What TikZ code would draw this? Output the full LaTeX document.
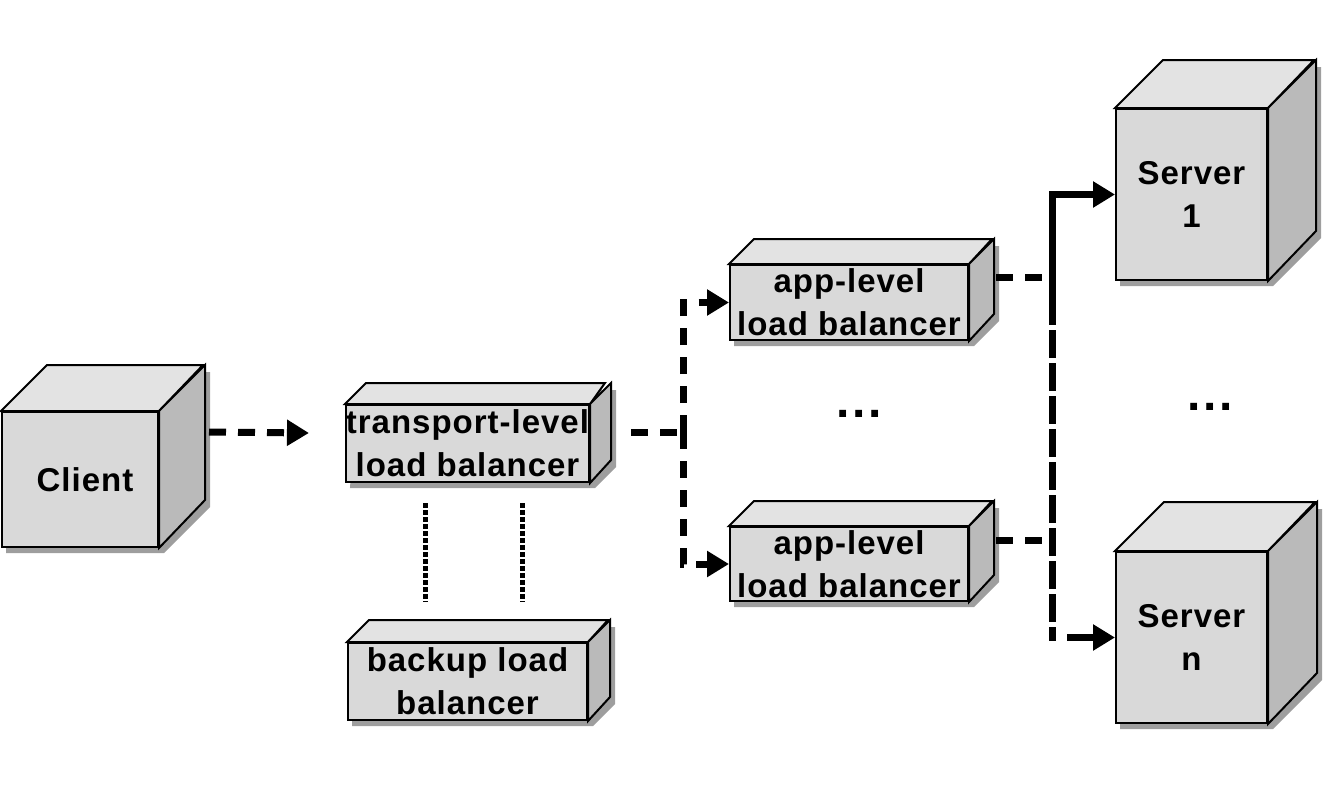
\documentclass[tikz,border=0pt]{standalone}
\usepackage{fontspec}
\setmainfont{Liberation Sans}
\newfontfamily\lblfont[LetterSpace=3]{Liberation Sans}
\usetikzlibrary{arrows.meta,calc,backgrounds}
\definecolor{facec}{gray}{0.85}
\definecolor{topc}{gray}{0.89}
\definecolor{sidec}{gray}{0.73}
\definecolor{shadowc}{gray}{0.62}
\tikzset{
  face/.style={draw, line width=2pt, fill=facec, inner sep=0pt, align=center,
    font=\fontsize{33}{43}\selectfont\lblfont\bfseries},
  edge/.style={draw, line width=2pt, line join=miter},
  conn/.style={line width=7pt, draw=black},
  dashc/.style={conn, dash pattern=on 17pt off 12pt},
  finedash/.style={conn, dash pattern=on 28pt off 5pt},
  dotc/.style={line width=5pt, dash pattern=on 5pt off 2pt},
  tip/.style={-{Triangle[length=22pt,width=25pt]}},
  dotsnode/.style={anchor=base, inner sep=0pt, font=\fontsize{48}{48}\selectfont\bfseries}
}
\newcommand\mycube[7]{%
  \node[face, minimum width=#4pt, minimum height=#5pt] (#1) at (#2,#3) {#7};
  \begin{pgfonlayer}{background}
    \fill[shadowc] ([shift={(5pt,-5pt)}]#1.south west) -- ([shift={(5pt,-5pt)}]#1.south east)
      -- ++(#6,-#6) -- ++(0,-#5) -- ++(-#4,0) -- ++(-#6,#6) -- cycle;
  \end{pgfonlayer}
  \draw[edge, fill=topc] (#1.north west) -- ++(#6,-#6) -- ++(#4,0) -- (#1.north east) -- cycle;
  \draw[edge, fill=sidec] (#1.north east) -- ++(#6,-#6) -- ++(0,#5) -- (#1.south east) -- cycle;
}
\begin{document}
\begin{tikzpicture}[x=1pt,y=-1pt]
\useasboundingbox (0,0) rectangle (1327,798);
\mycube{client}{80}{479.5}{156}{135}{46}{\hspace*{10pt}Client}
\mycube{tr}{467.5}{443.5}{239}{77}{21}{transport-level\\load balancer}
\mycube{bk}{467.5}{681.5}{239}{77}{22}{backup load\\balancer}
\mycube{app1}{849}{302.5}{238}{75}{25}{app-level\\load balancer}
\mycube{app2}{849}{564}{238}{74}{25}{app-level\\load balancer}
\mycube{srv1}{1191.5}{194.5}{151}{171}{48}{Server\\1}
\mycube{srvn}{1191.5}{637.5}{151}{171}{49}{Server\\n}

% client -> transport
\coordinate (clout) at ($(client.north east)+(50,21)$);
\coordinate (trin) at ($(tr.west)+(-36,-10.5)$);
\draw[dashc, tip] (clout) -- (trin);

% transport -> app-level balancers
\coordinate (trout) at ($(tr.east)+(41,-11.5)$);
\coordinate (j1) at ($(tr.east)+(93,-11.5)$);
\draw[dashc] (trout) -- (j1);
\draw[dashc, tip] (j1) |- (app1.west);
\draw[dashc, tip] (j1) |- (app2.west);

% transport <-> backup
\draw[dotc] ([xshift=-42.5pt,yshift=-20pt]tr.south) -- ([xshift=-42.5pt,yshift=40pt]bk.north);
\draw[dotc] ([xshift=54.5pt,yshift=-20pt]tr.south) -- ([xshift=54.5pt,yshift=40pt]bk.north);

% app-level -> servers
\coordinate (a1out) at ($(app1.east)+(27,-25.5)$);
\coordinate (a1end) at ($(app1.east)+(77,-25.5)$);
\coordinate (a2out) at ($(app2.east)+(27,-24)$);
\coordinate (a2end) at ($(app2.east)+(77,-24)$);
\draw[dashc] (a1out) -- (a1end);
\draw[dashc] (a2out) -- (a2end);
\coordinate (j2) at ($(srv1.west)+(-63,102.5)$);
\coordinate (j3) at ($(srvn.west)+(-63,3)$);
\coordinate (j4) at ($(srvn.west)+(-48,0)$);
\draw[conn, tip] (j2) |- (srv1.west);
\draw[finedash] (j2) -- (j3);
\draw[conn, tip] (j4) -- (srvn.west);

% ellipses
\node[dotsnode] (dots1) at (859,417) {.\kern3pt.\kern3pt.};
\node[dotsnode] (dots2) at (1210,410) {.\kern3pt.\kern3pt.};
\end{tikzpicture}
\end{document}
